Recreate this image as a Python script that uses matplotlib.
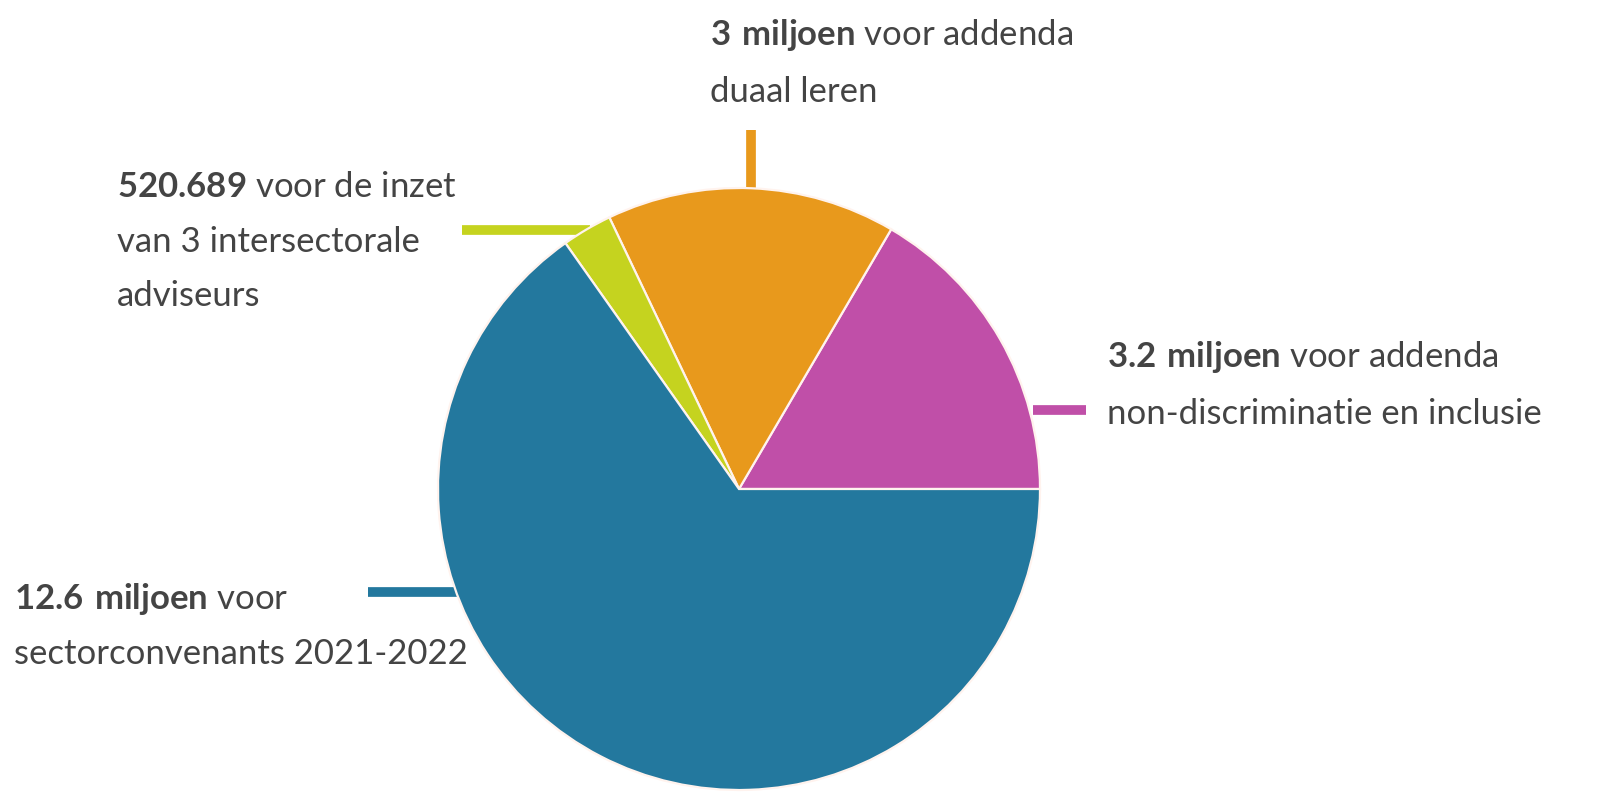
import matplotlib
matplotlib.use("Agg")
import matplotlib.pyplot as plt

# Data
labels_bold = ["3.2 miljoen", "3 miljoen", "520.689", "12.6 miljoen"]
values = [3.2, 3.0, 0.520689, 12.6]
colors = ["#C04FA8", "#E8991C", "#C5D31F", "#23789E"]
label_lines = [
    ["voor addenda", "non-discriminatie en inclusie"],
    ["voor addenda", "duaal leren"],
    ["voor de inzet", "van 3 intersectorale", "adviseurs"],
    ["voor", "sectorconvenants 2021-2022"],
]

plt.rcParams['font.family'] = ['Lato', 'DejaVu Sans']
plt.rcParams['mathtext.fontset'] = 'custom'
plt.rcParams['mathtext.rm'] = 'Lato'
plt.rcParams['mathtext.bf'] = 'Lato:bold'

W, H = 1613, 811
fig = plt.figure(figsize=(W / 100, H / 100), dpi=100)
ax = fig.add_axes([0, 0, 1, 1])

def py(y):
    return H - y

cx, cy, r = 739, 489, 301
ax.pie(values, colors=colors, startangle=0, counterclock=True,
       center=(cx, py(cy)), radius=r,
       wedgeprops=dict(edgecolor='#FFF3EE', linewidth=1.6), frame=True)
ax.set_xlim(0, W)
ax.set_ylim(0, H)
ax.set_aspect('equal')
ax.axis('off')

# leader lines (pixel coords)
lw = 7
ax.plot([1033, 1086], [py(410), py(410)], color=colors[0], lw=lw, solid_capstyle='butt', zorder=0)
ax.plot([751, 751], [py(130), py(193)], color=colors[1], lw=lw, solid_capstyle='butt', zorder=0)
ax.plot([462, 590], [py(230), py(230)], color=colors[2], lw=lw, solid_capstyle='butt', zorder=0)
ax.plot([368, 462], [py(592), py(592)], color=colors[3], lw=lw, solid_capstyle='butt', zorder=0)

fs = 25
tc = '#444444'
text_pos = [(1107, [367, 424]), (710, [45, 102]), (117, [197, 252, 306]), (14, [609, 664])]

def esc(s):
    return s.replace(' ', r'\ ')

for b, lines, (x, ys) in zip(labels_bold, label_lines, text_pos):
    first = r'$\mathbf{' + esc(b) + '}$ ' + lines[0]
    ax.text(x, py(ys[0]), first, fontsize=fs, color=tc, ha='left', va='baseline')
    for ln, y in zip(lines[1:], ys[1:]):
        ax.text(x, py(y), ln, fontsize=fs, color=tc, ha='left', va='baseline')

fig.savefig('out.png', dpi=100)
